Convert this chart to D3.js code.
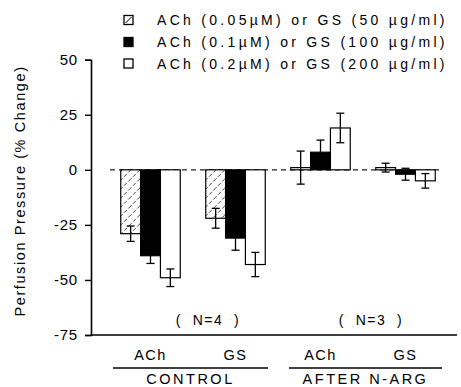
<!DOCTYPE html>
<html lang="en">
<head>
  <meta charset="UTF-8">
  <title>Perfusion Pressure</title>
  <script src="https://d3js.org/d3.v7.min.js"></script>
  <style>
    html, body {
      margin: 0;
      background-color: #ffffff;
      font-family: 'Liberation Sans', Arial, sans-serif;
    }
    svg text {
      fill: #000;
    }
  </style>
</head>
<body>
  <div id="chart"></div>

  <script type="text/javascript">
    // groups along the x axis
    const groups = ['ACh', 'GS', 'ACh', 'GS']
    const conditions = ['CONTROL', 'CONTROL', 'AFTER N-ARG', 'AFTER N-ARG']
    const nLabels = ['(  N=4  )', '(  N=3  )']

    // % change, one value per group
    const lowDose = [-29, -22, 1, 1]
    const midDose = [-39, -31, 8, -2]
    const highDose = [-49, -43, 19, -5]

    // SEM
    const lowErr = [3.5, 4.5, 7.5, 2]
    const midErr = [3.5, 5.5, 5.5, 2.7]
    const highErr = [4, 5.5, 6.7, 3.3]

    const seriesNames = [
      'ACh (0.05\u00b5M) or GS (50 \u00b5g/ml)',
      'ACh (0.1\u00b5M) or GS (100 \u00b5g/ml)',
      'ACh (0.2\u00b5M) or GS (200 \u00b5g/ml)',
    ]
    const yTicks = [50, 25, 0, -25, -50, -75]

    const series = [
      { key: 'low', values: lowDose, errs: lowErr, fill: 'url(#hatch)' },
      { key: 'mid', values: midDose, errs: midErr, fill: '#000' },
      { key: 'high', values: highDose, errs: highErr, fill: '#fff' },
    ]

    const width = 461
    const height = 387

    const svg = d3.select('#chart').append('svg')
      .attr('width', width)
      .attr('height', height)

    const defs = svg.append('defs')
    const hatch = defs.append('pattern')
      .attr('id', 'hatch')
      .attr('patternUnits', 'userSpaceOnUse')
      .attr('width', 9)
      .attr('height', 9)
    hatch.append('rect').attr('width', 9).attr('height', 9).attr('fill', '#fff')
    hatch.append('path')
      .attr('d', 'M-1,10 L10,-1')
      .attr('stroke', '#333')
      .attr('stroke-width', 0.9)
      .attr('stroke-dasharray', '4,2')

    const y = d3.scaleLinear()
      .domain([-75, 50])
      .range([335, 59.7])

    const x = d3.scaleBand()
      .domain(d3.range(groups.length))
      .range([108, 448])
      .paddingInner(0.3)
      .paddingOuter(0.15)

    const xInner = d3.scaleBand()
      .domain(series.map(s => s.key))
      .range([0, x.bandwidth()])

    // y axis
    const yAxis = svg.append('g')
      .attr('transform', 'translate(91,0)')
      .call(d3.axisLeft(y).tickValues(yTicks).tickSize(6).tickPadding(7))
    yAxis.select('.domain').attr('stroke', '#000').attr('stroke-width', 1.6)
    yAxis.selectAll('.tick line').attr('stroke', '#000').attr('stroke-width', 1.4)
    yAxis.selectAll('.tick text')
      .attr('font-size', 15)
      .attr('fill', '#000')
      .attr('letter-spacing', 0.8)
      .attr('font-family', "'Liberation Sans', Arial, sans-serif")
      .text(d => d < 0 ? '-' + Math.abs(d) : d)

    // baseline
    svg.append('line')
      .attr('x1', 91).attr('x2', 457)
      .attr('y1', y(-75)).attr('y2', y(-75))
      .attr('stroke', '#000').attr('stroke-width', 1.6)

    // zero line
    svg.append('line')
      .attr('x1', 110).attr('x2', 443)
      .attr('y1', y(0)).attr('y2', y(0))
      .attr('stroke', '#222').attr('stroke-width', 1.2)
      .attr('stroke-dasharray', '5,4')

    svg.append('text')
      .attr('transform', 'translate(25,191) rotate(-90)')
      .attr('text-anchor', 'middle')
      .attr('font-size', 14.5)
      .attr('letter-spacing', 1.6)
      .text('Perfusion Pressure (% Change)')

    // bars
    const groupG = svg.selectAll('.grp')
      .data(groups)
      .join('g')
      .attr('class', 'grp')
      .attr('transform', (d, i) => `translate(${x(i)},0)`)

    groupG.selectAll('rect')
      .data((d, i) => series.map(s => ({ key: s.key, v: s.values[i], fill: s.fill })))
      .join('rect')
      .attr('x', d => xInner(d.key))
      .attr('width', xInner.bandwidth())
      .attr('y', d => y(Math.max(0, d.v)))
      .attr('height', d => Math.abs(y(d.v) - y(0)))
      .attr('fill', d => d.fill)
      .attr('stroke', '#000')
      .attr('stroke-width', 1.2)

    const err = groupG.selectAll('.err')
      .data((d, i) => series.map(s => ({ key: s.key, v: s.values[i], e: s.errs[i] })))
      .join('g')
      .attr('class', 'err')
      .attr('stroke', '#000')
      .attr('stroke-width', 1.3)
    const cx = d => xInner(d.key) + xInner.bandwidth() / 2
    err.append('line')
      .attr('x1', cx).attr('x2', cx)
      .attr('y1', d => y(d.v + d.e)).attr('y2', d => y(d.v - d.e))
    err.append('line')
      .attr('x1', d => cx(d) - 4).attr('x2', d => cx(d) + 4)
      .attr('y1', d => y(d.v + d.e)).attr('y2', d => y(d.v + d.e))
    err.append('line')
      .attr('x1', d => cx(d) - 4).attr('x2', d => cx(d) + 4)
      .attr('y1', d => y(d.v - d.e)).attr('y2', d => y(d.v - d.e))

    // N labels, centred over each condition
    const condCenters = [
      (x(0) + x(1) + x.bandwidth()) / 2,
      (x(2) + x(3) + x.bandwidth()) / 2,
    ]
    svg.selectAll('.nlab')
      .data(nLabels)
      .join('text')
      .attr('class', 'nlab')
      .attr('x', (d, i) => condCenters[i] + (i === 0 ? 15 : 8))
      .attr('y', 325)
      .attr('text-anchor', 'middle')
      .attr('font-size', 14)
      .attr('letter-spacing', 1.5)
      .style('white-space', 'pre')
      .text(d => d)

    // group labels
    svg.selectAll('.glab')
      .data(groups)
      .join('text')
      .attr('class', 'glab')
      .attr('x', (d, i) => x(i) + x.bandwidth() / 2)
      .attr('y', 360)
      .attr('text-anchor', 'middle')
      .attr('font-size', 14.5)
      .attr('letter-spacing', 1.5)
      .text(d => d)

    // condition underlines and labels
    const condSpans = [[113, 268], [289, 442]]
    const condNames = [conditions[0], conditions[2]]
    svg.selectAll('.cline')
      .data(condSpans)
      .join('line')
      .attr('class', 'cline')
      .attr('x1', d => d[0]).attr('x2', d => d[1])
      .attr('y1', 368).attr('y2', 368)
      .attr('stroke', '#000').attr('stroke-width', 1.5)
    svg.selectAll('.clab')
      .data(condNames)
      .join('text')
      .attr('class', 'clab')
      .attr('x', (d, i) => (condSpans[i][0] + condSpans[i][1]) / 2)
      .attr('y', 384)
      .attr('text-anchor', 'middle')
      .attr('font-size', 14.5)
      .attr('letter-spacing', 2.5)
      .text(d => d)

    // legend
    const legend = svg.append('g').attr('transform', 'translate(124,0)')
    const rowY = [20, 42, 63.5]
    const legRow = legend.selectAll('.leg')
      .data(series)
      .join('g')
      .attr('class', 'leg')
      .attr('transform', (d, i) => `translate(0,${rowY[i]})`)
    legRow.append('rect')
      .attr('x', 0).attr('y', -4.5)
      .attr('width', 9).attr('height', 9)
      .attr('fill', d => d.key === 'mid' ? '#000' : '#fff')
      .attr('stroke', '#000').attr('stroke-width', 1.3)
    legRow.filter(d => d.key === 'low')
      .append('line')
      .attr('x1', 1.5).attr('y1', 3)
      .attr('x2', 7.5).attr('y2', -3)
      .attr('stroke', '#000').attr('stroke-width', 1)
    legRow.append('text')
      .attr('x', 33)
      .attr('y', 5)
      .attr('font-size', 14)
      .attr('letter-spacing', 3.3)
      .text((d, i) => seriesNames[i])
  </script>
</body>
</html>
